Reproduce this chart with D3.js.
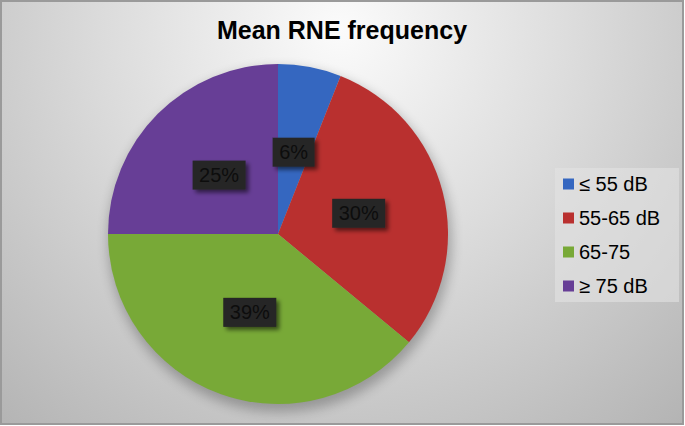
<!DOCTYPE html>
<html>
<head>
<meta charset="utf-8">
<script src="https://cdn.jsdelivr.net/npm/d3@7"></script>
<style>
  body { margin: 0; background: #fff; }
  svg { display: block; font-family: "Liberation Sans", Arial, sans-serif; }
</style>
</head>
<body>
<div id="chart-area"></div>
<script>
// data
var categories = ["≤ 55 dB", "55-65 dB", "65-75", "≥ 75 dB"];
var values = [6, 30, 39, 25];
var labels = ["6%", "30%", "39%", "25%"];
var colors = ["#3567c0", "#b9302f", "#78a937", "#673e96"];

var width = 685, height = 426;
var cx = 278, cy = 234, radius = 170;

var svg = d3.select("#chart-area")
    .append("svg")
    .attr("width", width)
    .attr("height", height);

var defs = svg.append("defs");

var bg = defs.append("radialGradient")
    .attr("id", "bg")
    .attr("gradientUnits", "userSpaceOnUse")
    .attr("cx", 340).attr("cy", 30).attr("r", 520)
bg.append("stop").attr("offset", "0%").attr("stop-color", "#fbfbfb")
bg.append("stop").attr("offset", "45%").attr("stop-color", "#dcdcdc")
bg.append("stop").attr("offset", "100%").attr("stop-color", "#b4b4b4")

var blur = defs.append("filter").attr("id", "pieShadow")
    .attr("x", "-20%").attr("y", "-20%").attr("width", "140%").attr("height", "140%")
blur.append("feGaussianBlur").attr("stdDeviation", 6)

var boxShadow = defs.append("filter").attr("id", "boxShadow")
    .attr("x", "-30%").attr("y", "-30%").attr("width", "170%").attr("height", "170%")
boxShadow.append("feDropShadow")
    .attr("dx", 3).attr("dy", 3).attr("stdDeviation", 2)
    .attr("flood-color", "#000").attr("flood-opacity", 0.55)

// background + frame
svg.append("rect")
    .attr("x", 1).attr("y", 1)
    .attr("width", width - 3).attr("height", height - 3)
    .attr("fill", "url(#bg)")
    .attr("stroke", "#9a9a9a")
    .attr("stroke-width", 2)

// title
svg.append("text")
    .attr("x", 342)
    .attr("y", 39)
    .attr("text-anchor", "middle")
    .attr("font-size", "25px")
    .attr("font-weight", "bold")
    .attr("fill", "#000")
    .text("Mean RNE frequency")

var pie = d3.pie().sort(null).value(function (d) { return d; });
var arcs = pie(values);

var arc = d3.arc().innerRadius(0).outerRadius(radius);
var labelArc = d3.arc().innerRadius(radius * 0.49).outerRadius(radius * 0.49);

var g = svg.append("g")
    .attr("transform", "translate(" + cx + "," + cy + ")");

// soft shadow under the pie
g.append("circle")
    .attr("cx", 2).attr("cy", 6)
    .attr("r", radius + 2)
    .attr("fill", "#000")
    .attr("opacity", 0.25)
    .attr("filter", "url(#pieShadow)")

g.selectAll("path.slice")
    .data(arcs)
    .enter().append("path")
    .attr("class", "slice")
    .attr("d", arc)
    .attr("fill", function (d, i) { return colors[i]; })

// labels in dark boxes
var lab = g.selectAll("g.lab")
    .data(arcs)
    .enter().append("g")
    .attr("class", "lab")
    .attr("transform", function (d) {
        var c = labelArc.centroid(d);
        return "translate(" + c[0] + "," + c[1] + ")";
    })

lab.append("rect")
    .attr("x", function (d, i) { return labels[i].length > 2 ? -26.5 : -21; })
    .attr("y", -14.5)
    .attr("width", function (d, i) { return labels[i].length > 2 ? 53 : 42; })
    .attr("height", 29)
    .attr("fill", "#262626")
    .attr("filter", "url(#boxShadow)")

lab.append("text")
    .attr("text-anchor", "middle")
    .attr("y", 7)
    .attr("font-size", "20px")
    .attr("fill", "#0d0d0d")
    .text(function (d, i) { return labels[i]; })

// legend
var legend = svg.append("g")
    .attr("transform", "translate(555,168)")

legend.append("rect")
    .attr("width", 124)
    .attr("height", 134)
    .attr("fill", "#e2e2e2")
    .attr("opacity", 0.6)

categories.forEach(function (c, i) {
    var row = legend.append("g")
        .attr("transform", "translate(0," + (16 + i * 34) + ")")
    row.append("rect")
        .attr("x", 8).attr("y", -5.5)
        .attr("width", 11).attr("height", 11)
        .attr("fill", colors[i])
    row.append("text")
        .attr("x", 24).attr("y", 7)
        .attr("font-size", "20px")
        .attr("fill", "#000")
        .text(c)
})
</script>
</body>
</html>
